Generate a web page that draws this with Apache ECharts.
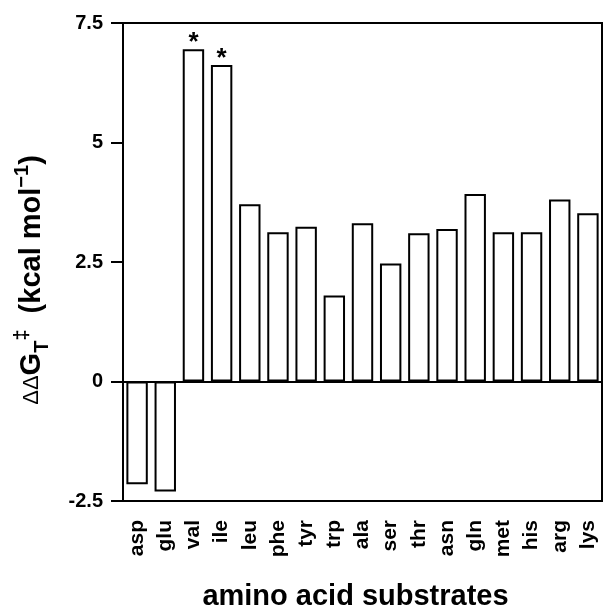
<!DOCTYPE html>
<html>
<head>
<meta charset="utf-8">
<script src="https://cdn.jsdelivr.net/npm/echarts@6/dist/echarts.min.js"></script>
<style>
  html, body { margin: 0; padding: 0; background: #fff; }
  #chart { width: 603px; height: 612px; }
</style>
</head>
<body>
<div id="chart"></div>
<script>
// amino acid substrates on the x axis
const substrates = ['asp', 'glu', 'val', 'ile', 'leu', 'phe', 'tyr', 'trp', 'ala',
  'ser', 'thr', 'asn', 'gln', 'met', 'his', 'arg', 'lys']
// ddG_T (kcal/mol)
const ddG = [-2.15, -2.3, 6.95, 6.62, 3.71, 3.12, 3.24, 1.8, 3.31,
  2.47, 3.1, 3.19, 3.92, 3.12, 3.12, 3.81, 3.52]
// bars flagged with an asterisk
const starred = ['val', 'ile']
const yTicks = [-2.5, 0, 2.5, 5, 7.5]

const font = '"Liberation Sans", Arial, Helvetica, sans-serif'
const chart = echarts.init(document.getElementById('chart'))

const barData = ddG.map((v, i) => {
  const item = { value: v }
  if (starred.indexOf(substrates[i]) >= 0) {
    item.label = {
      show: true,
      position: 'top',
      formatter: '*',
      fontSize: 26,
      fontWeight: 'bold',
      color: '#000',
      fontFamily: font,
      distance: -7
    }
  }
  return item
})

chart.setOption({
  backgroundColor: '#fff',
  animation: false,
  grid: {
    left: 123,
    right: 1,
    top: 23,
    bottom: 111,
    containLabel: false,
    outerBoundsMode: 'none',
    show: true,
    borderColor: '#000',
    borderWidth: 2,
    backgroundColor: 'transparent'
  },
  xAxis: {
    type: 'category',
    data: substrates,
    axisLine: { onZero: false, lineStyle: { color: '#000', width: 2 } },
    axisTick: { alignWithLabel: true, length: 11, lineStyle: { color: '#000', width: 2 } },
    axisLabel: {
      rotate: 90,
      margin: 19,
      fontSize: 21,
      fontWeight: 'bold',
      color: '#000',
      fontFamily: font,
      interval: 0
    },
    name: 'amino acid substrates',
    nameLocation: 'middle',
    nameGap: 81,
    nameTextStyle: {
      fontSize: 29,
      fontWeight: 'bold',
      color: '#000',
      fontFamily: font,
      padding: [0, 14, 0, 0]
    }
  },
  yAxis: {
    type: 'value',
    min: yTicks[0],
    max: yTicks[yTicks.length - 1],
    interval: 2.5,
    splitLine: { show: false },
    axisLine: { show: true, lineStyle: { color: '#000', width: 2 } },
    axisTick: { show: true, length: 12, lineStyle: { color: '#000', width: 2 } },
    axisLabel: {
      margin: 20,
      fontSize: 20,
      fontWeight: 'bold',
      color: '#000',
      fontFamily: font
    },
    name: '{d|ΔΔ}{a|G}{sub|T}{sup|‡}{a|  (kcal mol}{sup|−1}{a|)}',
    nameLocation: 'middle',
    nameGap: 71,
    nameTextStyle: {
      color: '#000',
      fontFamily: font,
      padding: [0, 0, 0, -36],
      rich: {
        d: { fontSize: 22, fontWeight: 'normal', lineHeight: 40, fontFamily: font, color: '#000' },
        a: { fontSize: 29, fontWeight: 'bold', lineHeight: 40, fontFamily: font, color: '#000' },
        sub: { fontSize: 20, fontWeight: 'bold', lineHeight: 20, verticalAlign: 'bottom', fontFamily: font, color: '#000' },
        sup: { fontSize: 20, fontWeight: 'bold', lineHeight: 20, verticalAlign: 'top', fontFamily: font, color: '#000' }
      }
    }
  },
  series: [{
    type: 'bar',
    data: barData,
    barWidth: '76%',
    itemStyle: { color: '#fff', borderColor: '#000', borderWidth: 2 },
    markLine: {
      silent: true,
      symbol: 'none',
      label: { show: false },
      lineStyle: { color: '#000', width: 2, type: 'solid' },
      data: [{ yAxis: 0 }]
    }
  }]
})
</script>
</body>
</html>
